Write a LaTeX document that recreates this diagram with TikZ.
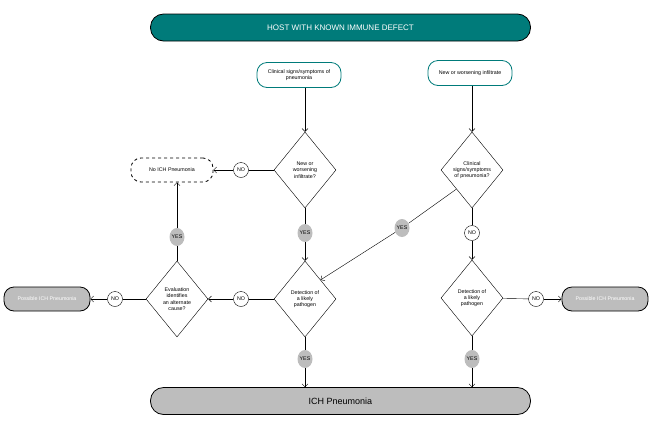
\documentclass[tikz,border=0pt]{standalone}
\usepackage{fontspec}
\setmainfont{Liberation Sans}
\usetikzlibrary{arrows.meta,positioning,shapes.geometric}
\definecolor{teal1}{HTML}{007B7A}
\definecolor{gray1}{HTML}{BDBDBD}
\begin{document}
\begin{tikzpicture}[x=1pt, y=-1pt, >={Straight Barb[length=3pt]}, font=\fontsize{5.3}{6.3}\selectfont]
\tikzset{
  banner/.style = {rectangle, rounded corners=13pt, draw, thick, minimum width=380pt, minimum height=27pt},
  start/.style  = {rectangle, rounded corners=10pt, draw=teal1, thick, align=center, minimum width=84pt, minimum height=25pt},
  decide/.style = {diamond, draw, align=center, inner sep=0pt, minimum width=62pt, minimum height=76pt},
  result/.style = {rectangle, rounded corners=10pt, draw, thick, fill=gray1, align=center, minimum width=86pt, minimum height=24pt},
  nobox/.style  = {rectangle, rounded corners=10pt, draw, thick, dashed, minimum width=82pt, minimum height=24pt},
  no/.style     = {circle, draw, fill=white, inner sep=0pt, minimum size=15pt},
  yes/.style    = {ellipse, fill=gray1, inner sep=0pt, minimum width=15pt, minimum height=18pt}
}
\useasboundingbox (0,0) rectangle (654,424);

% Top and bottom
\node[banner, fill=teal1, text=white, font=\fontsize{8}{9}\selectfont] (host) at (340.5,27.5) {HOST WITH KNOWN IMMUNE DEFECT};
\node[banner, fill=gray1, font=\fontsize{9}{10}\selectfont] (ich) at (340.5,401) {ICH Pneumonia};

% Entry nodes
\node[start] (signs) at (299,75) {Clinical signs/symptoms of\\pneumonia};
\node[start] (infil) at (470,73) {New or worsening infiltrate};

% Decisions
\node[decide] (dinfil) at (305,170) {New or\\worsening\\infiltrate?};
\node[decide] (dsigns) at (472,170) {Clinical\\signs/symptoms\\of pneumonia?};
\node[decide] (dpath) at (305,299) {Detection of\\a likely\\pathogen};
\node[decide] (dpath2) at (472,298) {Detection of\\a likely\\pathogen};
\node[decide] (deval) at (177,299) {Evaluation\\identifies\\an alternate\\cause?};

% Outcomes
\node[nobox] (noich) at (172,170) {No ICH Pneumonia};
\node[result, text=white] (possl) at (47,299) {Possible ICH Pneumonia};
\node[result, text=white] (possr) at (605,299) {Possible ICH Pneumonia};

% Answer marks
\node[no] (no1) at (241,170) {NO};
\node[no] (no2) at (472,233) {NO};
\node[no] (no3) at (241,299) {NO};
\node[no] (no4) at (115,299) {NO};
\node[no] (no5) at (536,299) {NO};
\node[yes] (yes1) at (305,233) {YES};
\node[yes] (yes2) at (402,228) {YES};
\node[yes] (yes3) at (177,237) {YES};
\node[yes] (yes4) at (305,359) {YES};
\node[yes] (yes5) at (472,359) {YES};

% Edges
\draw[->] (signs.south -| dinfil) -- (dinfil);
\draw[->] (infil.south -| dsigns) -- (dsigns);
\draw (dinfil) -- (no1);
\draw[->] (no1) -- (noich);
\draw (dinfil) -- (yes1);
\draw[->] (yes1) -- (dpath);
\draw (dsigns.south west) -- (yes2);
\draw[->] (yes2) -- (dpath.north east);
\draw (dsigns) -- (no2);
\draw[->] (no2) -- (dpath2);
\draw (dpath) -- (no3);
\draw[->] (no3) -- (deval);
\draw (deval) -- (no4);
\draw[->] (no4) -- (possl);
\draw (deval) -- (yes3);
\draw[->] (yes3) -- (yes3 |- noich.south);
\draw (dpath2) -- (no5);
\draw[->] (no5) -- (possr);
\draw (dpath) -- (yes4);
\draw[->] (yes4) -- (yes4 |- ich.north);
\draw (dpath2) -- (yes5);
\draw[->] (yes5) -- (yes5 |- ich.north);

\end{tikzpicture}
\end{document}
